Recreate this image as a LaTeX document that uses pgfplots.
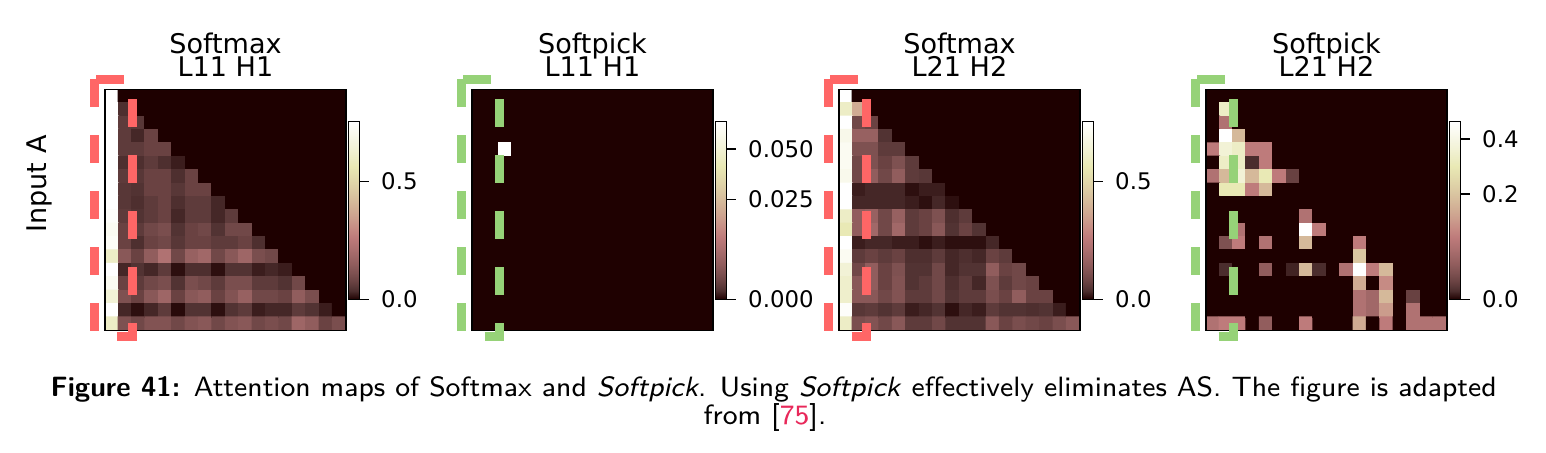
\documentclass[border=0pt]{standalone}
\usepackage{pgfplots}
\pgfplotsset{compat=1.18}
\usepackage{pgfplotstable}
\usetikzlibrary{calc}
\usepackage{fontspec}
\setmainfont{DejaVu Sans}

\definecolor{dashred}{RGB}{255,102,102}
\definecolor{dashgreen}{RGB}{150,210,120}
\definecolor{citered}{RGB}{232,40,90}

\newcommand\titlesize{\fontsize{7.7}{9.2}\selectfont}
\newcommand\ticksize{\fontsize{6.5}{7.8}\selectfont}

\pgfplotsset{colormap={mplpink}{rgb255=(30,0,0) rgb255=(77,47,47) rgb255=(105,66,66) rgb255=(126,81,81) rgb255=(145,93,93) rgb255=(161,104,104) rgb255=(176,114,114) rgb255=(190,123,123) rgb255=(198,139,132) rgb255=(203,156,140) rgb255=(208,171,147) rgb255=(213,185,154) rgb255=(218,198,161) rgb255=(223,211,168) rgb255=(228,222,174) rgb255=(233,233,181) rgb255=(237,237,198) rgb255=(242,242,214) rgb255=(246,246,228) rgb255=(251,251,242) rgb255=(255,255,255)}}

\pgfplotsset{hm/.style={
  scale only axis, width=24.1mm, height=24.1mm, anchor=north west,
  xmin=-0.5, xmax=17.5, ymin=-0.5, ymax=17.5, y dir=reverse,
  xtick=\empty, ytick=\empty,
  axis line style={line width=0.18mm, black},
  axis on top,
  colormap name=mplpink,
  point meta min=0, point meta max=1,
  colorbar,
  colorbar style={
    at={($(parent axis.north east)+(-2.74mm,-3.22mm)$)}, anchor=north west,
    scale only axis, width=1.07mm, height=17.78mm,
    axis line style={line width=0.15mm, black},
    ytick pos=right, yticklabel pos=right,
    tick align=outside, major tick length=0.95mm,
    tick style={line width=0.15mm, black},
    yticklabel style={font=\ticksize},
  },
}}

% Panel A: Softmax L11 H1 (row-major, 18 x 18)
\pgfplotstableread[row sep=\\]{v\\
1\\0\\0\\0\\0\\0\\0\\0\\0\\0\\0\\0\\0\\0\\0\\0\\0\\0\\
1\\0.007\\0\\0\\0\\0\\0\\0\\0\\0\\0\\0\\0\\0\\0\\0\\0\\0\\
1\\0.015\\0.012\\0\\0\\0\\0\\0\\0\\0\\0\\0\\0\\0\\0\\0\\0\\0\\
1\\0.015\\0.005\\0.022\\0\\0\\0\\0\\0\\0\\0\\0\\0\\0\\0\\0\\0\\0\\
1\\0.015\\0.015\\0.022\\0.022\\0\\0\\0\\0\\0\\0\\0\\0\\0\\0\\0\\0\\0\\
1\\0.007\\0.007\\0.015\\0.007\\0.003\\0\\0\\0\\0\\0\\0\\0\\0\\0\\0\\0\\0\\
1\\0.015\\0.012\\0.022\\0.022\\0.007\\0.022\\0\\0\\0\\0\\0\\0\\0\\0\\0\\0\\0\\
1\\0.012\\0.009\\0.022\\0.022\\0.012\\0.022\\0.022\\0\\0\\0\\0\\0\\0\\0\\0\\0\\0\\
1\\0.012\\0.007\\0.015\\0.022\\0.007\\0.015\\0.015\\0.005\\0\\0\\0\\0\\0\\0\\0\\0\\0\\
0.967\\0.015\\0.009\\0.015\\0.022\\0.005\\0.015\\0.015\\0.005\\0.015\\0\\0\\0\\0\\0\\0\\0\\0\\
0.918\\0.022\\0.015\\0.029\\0.038\\0.009\\0.022\\0.029\\0.009\\0.029\\0.029\\0\\0\\0\\0\\0\\0\\0\\
0.950\\0.022\\0.007\\0.022\\0.029\\0.012\\0.022\\0.022\\0.015\\0.015\\0.022\\0.007\\0\\0\\0\\0\\0\\0\\
0.689\\0.057\\0.022\\0.068\\0.134\\0.029\\0.080\\0.099\\0.029\\0.057\\0.093\\0.038\\0.029\\0\\0\\0\\0\\0\\
1\\0.005\\0.009\\0.005\\0.015\\0.001\\0.007\\0.007\\0.001\\0.009\\0.009\\0.003\\0.005\\0.003\\0\\0\\0\\0\\
0.918\\0.022\\0.015\\0.029\\0.038\\0.009\\0.038\\0.029\\0.015\\0.038\\0.038\\0.015\\0.015\\0.009\\0.029\\0\\0\\0\\
0.763\\0.042\\0.022\\0.057\\0.093\\0.022\\0.057\\0.068\\0.022\\0.047\\0.080\\0.029\\0.029\\0.022\\0.068\\0.038\\0\\0\\
1\\0.005\\0.001\\0.005\\0.015\\0.0005\\0.009\\0.009\\0.001\\0.009\\0.015\\0.003\\0.005\\0.005\\0.015\\0.009\\0.003\\0\\
0.689\\0.042\\0.029\\0.047\\0.047\\0.029\\0.047\\0.057\\0.029\\0.047\\0.057\\0.029\\0.038\\0.029\\0.093\\0.068\\0.022\\0.038\\}\dataA

% Panel B: Softpick L11 H1
\pgfplotstableread[row sep=\\]{v\\
0\\0\\0\\0\\0\\0\\0\\0\\0\\0\\0\\0\\0\\0\\0\\0\\0\\0\\
0\\0\\0\\0\\0\\0\\0\\0\\0\\0\\0\\0\\0\\0\\0\\0\\0\\0\\
0\\0\\0\\0\\0\\0\\0\\0\\0\\0\\0\\0\\0\\0\\0\\0\\0\\0\\
0\\0\\0\\0\\0\\0\\0\\0\\0\\0\\0\\0\\0\\0\\0\\0\\0\\0\\
0\\0\\0.066\\0\\0\\0\\0\\0\\0\\0\\0\\0\\0\\0\\0\\0\\0\\0\\
0\\0\\0\\0\\0\\0\\0\\0\\0\\0\\0\\0\\0\\0\\0\\0\\0\\0\\
0\\0\\0\\0\\0\\0\\0\\0\\0\\0\\0\\0\\0\\0\\0\\0\\0\\0\\
0\\0\\0\\0\\0\\0\\0\\0\\0\\0\\0\\0\\0\\0\\0\\0\\0\\0\\
0\\0\\0\\0\\0\\0\\0\\0\\0\\0\\0\\0\\0\\0\\0\\0\\0\\0\\
0\\0\\0\\0\\0\\0\\0\\0\\0\\0\\0\\0\\0\\0\\0\\0\\0\\0\\
0\\0\\0\\0\\0\\0\\0\\0\\0\\0\\0\\0\\0\\0\\0\\0\\0\\0\\
0\\0\\0\\0\\0\\0\\0\\0\\0\\0\\0\\0\\0\\0\\0\\0\\0\\0\\
0\\0\\0\\0\\0\\0\\0\\0\\0\\0\\0\\0\\0\\0\\0\\0\\0\\0\\
0\\0\\0\\0\\0\\0\\0\\0\\0\\0\\0\\0\\0\\0\\0\\0\\0\\0\\
0\\0\\0\\0\\0\\0\\0\\0\\0\\0\\0\\0\\0\\0\\0\\0\\0\\0\\
0\\0\\0\\0\\0\\0\\0\\0\\0\\0\\0\\0\\0\\0\\0\\0\\0\\0\\
0\\0\\0\\0\\0\\0\\0\\0\\0\\0\\0\\0\\0\\0\\0\\0\\0\\0\\
0\\0\\0\\0\\0\\0\\0\\0\\0\\0\\0\\0\\0\\0\\0\\0\\0\\0\\}\dataB

% Panel C: Softmax L21 H2
\pgfplotstableread[row sep=\\]{v\\
1\\0\\0\\0\\0\\0\\0\\0\\0\\0\\0\\0\\0\\0\\0\\0\\0\\0\\
0.689\\0.315\\0\\0\\0\\0\\0\\0\\0\\0\\0\\0\\0\\0\\0\\0\\0\\0\\
1\\0.029\\0.022\\0\\0\\0\\0\\0\\0\\0\\0\\0\\0\\0\\0\\0\\0\\0\\
0.870\\0.080\\0.080\\0.009\\0\\0\\0\\0\\0\\0\\0\\0\\0\\0\\0\\0\\0\\0\\
0.918\\0.042\\0.042\\0.015\\0.015\\0\\0\\0\\0\\0\\0\\0\\0\\0\\0\\0\\0\\0\\
0.918\\0.029\\0.042\\0.022\\0.042\\0.015\\0\\0\\0\\0\\0\\0\\0\\0\\0\\0\\0\\0\\
0.886\\0.029\\0.068\\0.029\\0.068\\0.015\\0.012\\0\\0\\0\\0\\0\\0\\0\\0\\0\\0\\0\\
1\\0.003\\0.005\\0.005\\0.005\\0.001\\0.003\\0.003\\0\\0\\0\\0\\0\\0\\0\\0\\0\\0\\
1\\0.005\\0.005\\0.005\\0.005\\0.003\\0.001\\0.005\\0.001\\0\\0\\0\\0\\0\\0\\0\\0\\0\\
0.689\\0.068\\0.080\\0.029\\0.080\\0.015\\0.022\\0.042\\0.007\\0.015\\0\\0\\0\\0\\0\\0\\0\\0\\
0.619\\0.068\\0.099\\0.029\\0.099\\0.015\\0.022\\0.057\\0.009\\0.022\\0.009\\0\\0\\0\\0\\0\\0\\0\\
1\\0.003\\0.005\\0.005\\0.003\\0.003\\0.001\\0.003\\0.001\\0.001\\0.001\\0.005\\0\\0\\0\\0\\0\\0\\
0.918\\0.015\\0.022\\0.015\\0.022\\0.007\\0.007\\0.015\\0.005\\0.007\\0.005\\0.022\\0.015\\0\\0\\0\\0\\0\\
0.763\\0.029\\0.068\\0.022\\0.042\\0.009\\0.009\\0.029\\0.005\\0.009\\0.009\\0.068\\0.022\\0.029\\0\\0\\0\\0\\
0.718\\0.057\\0.068\\0.022\\0.047\\0.009\\0.015\\0.029\\0.007\\0.015\\0.005\\0.042\\0.015\\0.029\\0.022\\0\\0\\0\\
0.718\\0.057\\0.057\\0.029\\0.047\\0.015\\0.015\\0.029\\0.009\\0.015\\0.015\\0.038\\0.022\\0.068\\0.022\\0.022\\0\\0\\
0.967\\0.012\\0.015\\0.009\\0.015\\0.003\\0.005\\0.009\\0.001\\0.005\\0.003\\0.015\\0.009\\0.009\\0.007\\0.009\\0.003\\0\\
0.689\\0.038\\0.047\\0.029\\0.057\\0.015\\0.015\\0.029\\0.009\\0.009\\0.009\\0.057\\0.022\\0.038\\0.029\\0.022\\0.038\\0.057\\}\dataC

% Panel D: Softpick L21 H2
\pgfplotstableread[row sep=\\]{v\\
0\\0\\0\\0\\0\\0\\0\\0\\0\\0\\0\\0\\0\\0\\0\\0\\0\\0\\
0\\0.328\\0\\0\\0\\0\\0\\0\\0\\0\\0\\0\\0\\0\\0\\0\\0\\0\\
0\\0.064\\0\\0\\0\\0\\0\\0\\0\\0\\0\\0\\0\\0\\0\\0\\0\\0\\
0\\0.475\\0.175\\0\\0\\0\\0\\0\\0\\0\\0\\0\\0\\0\\0\\0\\0\\0\\
0.083\\0.362\\0.328\\0.083\\0.083\\0\\0\\0\\0\\0\\0\\0\\0\\0\\0\\0\\0\\0\\
0\\0.328\\0.328\\0.003\\0.083\\0\\0\\0\\0\\0\\0\\0\\0\\0\\0\\0\\0\\0\\
0.064\\0.175\\0.362\\0.175\\0.294\\0.083\\0.010\\0\\0\\0\\0\\0\\0\\0\\0\\0\\0\\0\\
0\\0.294\\0.294\\0.083\\0.175\\0\\0\\0\\0\\0\\0\\0\\0\\0\\0\\0\\0\\0\\
0\\0\\0\\0\\0\\0\\0\\0\\0\\0\\0\\0\\0\\0\\0\\0\\0\\0\\
0\\0\\0\\0\\0\\0\\0\\0.064\\0\\0\\0\\0\\0\\0\\0\\0\\0\\0\\
0\\0\\0.064\\0\\0\\0\\0\\0.475\\0.083\\0\\0\\0\\0\\0\\0\\0\\0\\0\\
0\\0.020\\0.083\\0\\0.064\\0\\0\\0.175\\0\\0\\0\\0.083\\0\\0\\0\\0\\0\\0\\
0\\0\\0\\0\\0\\0\\0\\0\\0\\0\\0\\0.203\\0\\0\\0\\0\\0\\0\\
0\\0.003\\0\\0\\0.033\\0\\0.002\\0.175\\0.003\\0\\0.064\\0.475\\0.083\\0.175\\0\\0\\0\\0\\
0\\0\\0\\0\\0\\0\\0\\0\\0\\0\\0\\0.150\\0\\0.103\\0\\0\\0\\0\\
0\\0\\0\\0\\0\\0\\0\\0\\0\\0\\0\\0.064\\0.047\\0.175\\0\\0.010\\0\\0\\
0\\0\\0\\0\\0\\0\\0\\0\\0\\0\\0\\0.064\\0.047\\0.126\\0\\0.064\\0\\0\\
0.064\\0.083\\0.083\\0\\0.033\\0\\0\\0.083\\0\\0\\0\\0.150\\0\\0.083\\0\\0.064\\0.064\\0.064\\}\dataD

\newcommand\cellx{\coordindex-18*floor((\coordindex+0.5)/18)}
\newcommand\celly{floor((\coordindex+0.5)/18)}

\begin{document}
\begin{tikzpicture}
\path[use as bounding box] (0,0) rectangle (154.6mm,-45.3mm);

\begin{axis}[hm, at={(10.5mm,-8.95mm)},
  colorbar style={ytick={0,0.665}, yticklabels={0.0,0.5}}]
\addplot[matrix plot*, mesh/cols=18, point meta={exp(0.6*ln(max(\thisrow{v},0.000001)/1.0))}]
  table[x index=0, y index=0, x expr={\cellx}, y expr={\celly}] {\dataA};
\end{axis}

\begin{axis}[hm, at={(47.2mm,-8.95mm)},
  colorbar style={ytick={0,0.562,0.847}, yticklabels={0.000,0.025,0.050}}]
\addplot[matrix plot*, mesh/cols=18, point meta={exp(0.6*ln(max(\thisrow{v},0.000001)/0.066))}]
  table[x index=0, y index=0, x expr={\cellx}, y expr={\celly}] {\dataB};
\end{axis}

\begin{axis}[hm, at={(83.9mm,-8.95mm)},
  colorbar style={ytick={0,0.665}, yticklabels={0.0,0.5}}]
\addplot[matrix plot*, mesh/cols=18, point meta={exp(0.6*ln(max(\thisrow{v},0.000001)/1.0))}]
  table[x index=0, y index=0, x expr={\cellx}, y expr={\celly}] {\dataC};
\end{axis}

\begin{axis}[hm, at={(120.6mm,-8.95mm)},
  colorbar style={ytick={0,0.593,0.902}, yticklabels={0.0,0.2,0.4}}]
\addplot[matrix plot*, mesh/cols=18, point meta={exp(0.6*ln(max(\thisrow{v},0.000001)/0.475))}]
  table[x index=0, y index=0, x expr={\cellx}, y expr={\celly}] {\dataD};
\end{axis}

% dashed boxes around the first column
\foreach \xo/\col in {0/dashred, 36.7/dashgreen, 73.4/dashred, 110.1/dashgreen} {
  \draw[\col, line width=0.9mm, dash pattern=on 2.8mm off 2.8mm, line join=miter]
    (9.45mm+\xo mm,-7.9mm) -- (9.45mm+\xo mm,-33.6mm) -- (13.2mm+\xo mm,-33.6mm) -- (13.2mm+\xo mm,-7.9mm) -- cycle;
}

% titles
\foreach \cx/\ta/\tb in {22.55/Softmax/L11 H1, 59.25/Softpick/L11 H1, 95.95/Softmax/L21 H2, 132.65/Softpick/L21 H2} {
  \node[anchor=base, inner sep=0pt, font=\titlesize] at (\cx mm,-5.33mm) {\ta};
  \node[anchor=base, inner sep=0pt, font=\titlesize] at (\cx mm,-7.67mm) {\tb};
}

\node[anchor=base, rotate=90, inner sep=0pt, font=\titlesize] at (4.67mm,-18.4mm) {Input A};

% caption
\node[anchor=base west, inner sep=0pt, font=\sffamily\fontsize{7.95}{9.5}\selectfont] at (5.0mm,-39.6mm)
  {\makebox[144.6mm][s]{\textbf{Figure 41:} Attention maps of Softmax and \textit{Softpick}. Using \textit{Softpick} effectively eliminates AS. The figure is adapted}};
\node[anchor=base, inner sep=0pt, font=\sffamily\fontsize{7.95}{9.5}\selectfont] at (76.5mm,-42.4mm)
  {from [\textcolor{citered}{75}].};
\end{tikzpicture}
\end{document}
